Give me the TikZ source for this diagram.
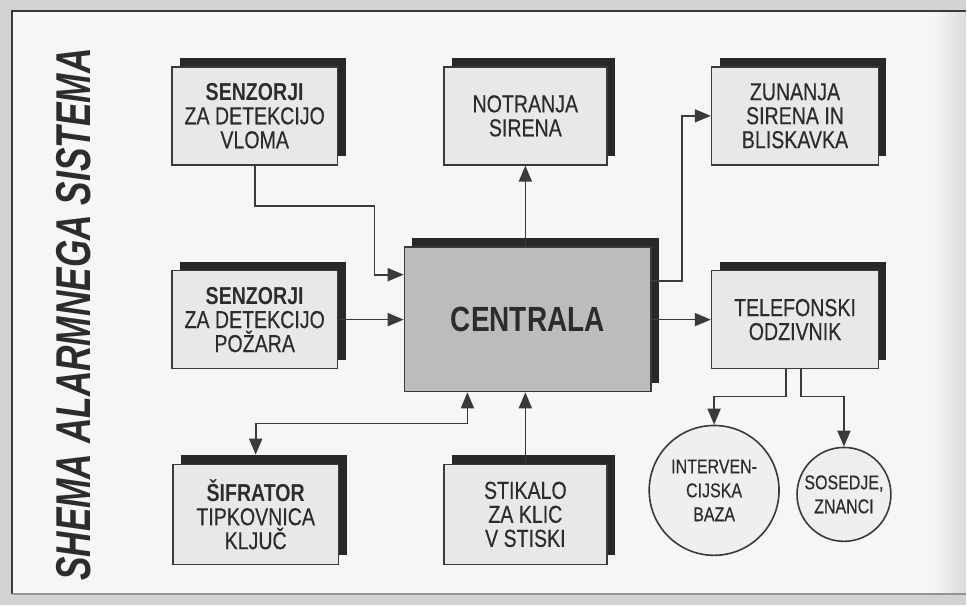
\documentclass[tikz,border=0pt]{standalone}
\usepackage{fontspec}
\setmainfont[FakeStretch=0.8, UprightFeatures={FakeBold=0.35}]{Liberation Sans}
\newfontfamily\titlefont[FakeStretch=0.72]{Liberation Sans}
\usetikzlibrary{shadows,arrows.meta}
\definecolor{outbg}{HTML}{D2D2D0}
\definecolor{inbg}{HTML}{F6F6F4}
\definecolor{boxfill}{HTML}{E8E8E6}
\definecolor{cenfill}{HTML}{BCBCBA}
\definecolor{ink}{HTML}{2C2C2C}
\definecolor{lin}{HTML}{3A3A3A}
\tikzset{
  box/.style={draw=lin, line width=1.6pt, fill=boxfill, text=ink, align=center,
    minimum width=166pt, minimum height=98pt, inner sep=0pt,
    font=\fontsize{24.5}{24}\selectfont,
    general shadow={fill=ink!90!black, shadow xshift=8pt, shadow yshift=9pt}},
  circ/.style={draw=lin, line width=1.6pt, fill=boxfill!70!white, text=ink, circle, align=center,
    inner sep=0pt, font=\fontsize{20}{24}\selectfont},
  arr/.style={draw=lin, line width=1.7pt, -{Triangle[length=16pt,width=13pt]}},
  darr/.style={draw=lin, line width=1.7pt, {Triangle[length=16pt,width=13pt]}-{Triangle[length=16pt,width=13pt]}},
}
\begin{document}
\begin{tikzpicture}[x=1pt,y=-1pt]
\fill[outbg] (0,0) rectangle (967,606);
\fill[inbg] (12,11) rectangle (967,595);
\shade[left color=inbg, right color=outbg!80!white] (935,11) rectangle (967,595);
\draw[lin, line width=2.4pt] (12,595) -- (12,11) -- (967,11);
\draw[lin!55!white, line width=1.6pt] (12,595) -- (967,595);
\node[rotate=90, text=ink, font=\titlefont\bfseries\itshape\fontsize{49}{49}\selectfont] (title) at (74,315) {SHEMA ALARMNEGA SISTEMA};

\node[box] (sv) at (255,116) {\textbf{SENZORJI}\\ZA DETEKCIJO\\VLOMA};
\node[box, minimum width=163pt] (ns) at (526,116) {NOTRANJA\\SIRENA};
\node[box, minimum width=167pt] (zs) at (796,116) {ZUNANJA\\SIRENA IN\\BLISKAVKA};
\node[box] (sp) at (255,320) {\textbf{SENZORJI}\\ZA DETEKCIJO\\POŽARA};
\node[box, fill=cenfill, minimum width=247pt, minimum height=145pt, font=\bfseries\fontsize{35}{35}\selectfont] (ce) at (528.5,319.5) {CENTRALA};
\node[box, minimum width=167pt] (tel) at (796,320) {TELEFONSKI\\ODZIVNIK};
\node[box, minimum height=100pt] (sif) at (256,515) {\textbf{ŠIFRATOR}\\TIPKOVNICA\\KLJUČ};
\node[box, minimum width=163pt, minimum height=100pt] (sti) at (526,515) {STIKALO\\ZA KLIC\\V STISKI};
\node[circ, minimum size=130pt] (ib) at (715,491) {INTERVEN-\\CIJSKA\\BAZA};
\node[circ, minimum size=94pt] (sz) at (845,495) {SOSEDJE,\\ZNANCI};

\coordinate (k1) at (375,206);
\coordinate (k2) at (683,116);
\coordinate (k3) at (468,424);
\coordinate (k4) at (0,397);

\draw[arr] (sv.south) |- (k1) |- ([yshift=44.5pt]ce.west);
\draw[arr] (sp.east) -- (sp.east -| ce.west);
\draw[arr] (ns.south |- ce.north) -- (ns.south);
\draw[arr] ([yshift=38pt]ce.east) -| (k2) -- (zs.west);
\draw[arr] (ce.east |- tel.west) -- (tel.west);
\draw[arr] (sti.north) -- (sti.north |- ce.south);
\draw[darr] ([yshift=9pt]sif.north) |- (k3) -- (k3 |- ce.south);
\draw[arr] ([xshift=-9pt]tel.south) |- (ib.north |- k4) -- (ib.north);
\draw[arr] ([xshift=6pt]tel.south) |- (sz.north |- k4) -- (sz.north);
\end{tikzpicture}
\end{document}
